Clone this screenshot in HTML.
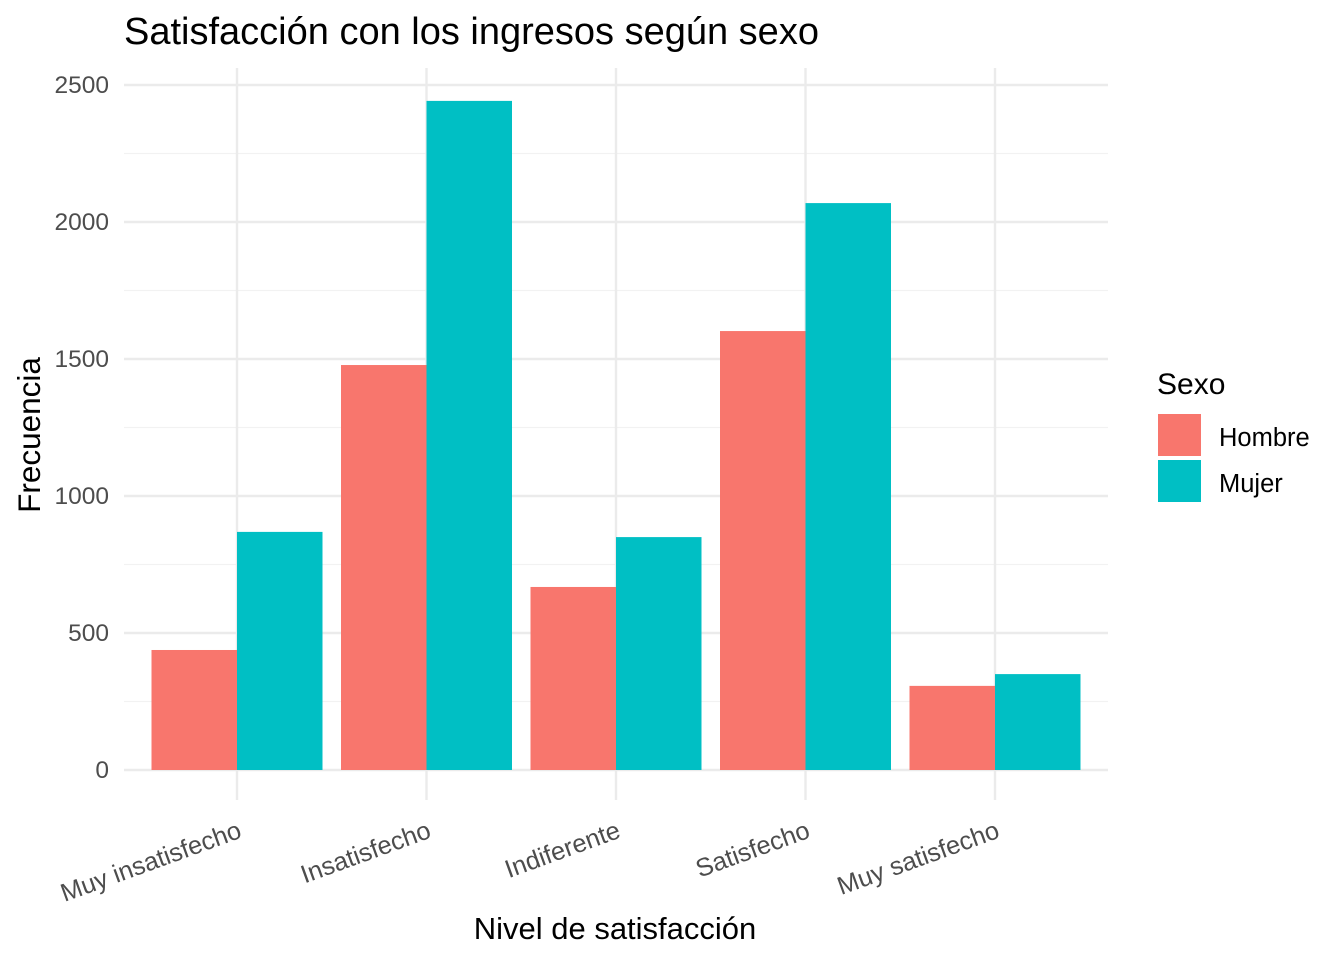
<!DOCTYPE html>
<html><head><meta charset="utf-8"><style>
body{margin:0;background:#fff;}
svg text{font-family:"Liberation Sans",Arial,sans-serif;}
</style></head><body>
<svg id="chart" width="1344" height="960" xmlns="http://www.w3.org/2000/svg">
<text x="124" y="44" font-size="38" fill="#000">Satisfacción con los ingresos según sexo</text>
<g id="grid"></g><g id="bars"></g><g id="axes"></g>
<text x="615" y="939" font-size="31" text-anchor="middle" fill="#000">Nivel de satisfacción</text>
<text transform="translate(40,435) rotate(-90)" font-size="31.5" text-anchor="middle" fill="#000">Frecuencia</text>
<g>
<text x="1157" y="394" font-size="30" fill="#000">Sexo</text>
<rect x="1158" y="414" width="43" height="42" fill="#F8766D"/>
<text x="1219" y="446" font-size="25.5" fill="#000">Hombre</text>
<rect x="1158" y="460" width="43" height="42" fill="#00BFC4"/>
<text x="1219" y="492" font-size="25.5" fill="#000">Mujer</text>
</g>
</svg>
<script>
const categories=["Muy insatisfecho","Insatisfecho","Indiferente","Satisfecho","Muy satisfecho"];
const hombre=[438,1478,668,1602,307];
const mujer=[869,2442,850,2069,350];
const yTicks=[0,500,1000,1500,2000,2500];
const NS="http://www.w3.org/2000/svg";
const px0=124,px1=1108,pyTop=68,pyBot=800;
const y=v=>770-v*0.274;
const x=i=>237+i*189.5;
const bw=85.5;
function mk(tag,attrs,parent){const e=document.createElementNS(NS,tag);for(const k in attrs)e.setAttribute(k,attrs[k]);parent.appendChild(e);return e;}
const grid=document.getElementById('grid'),bars=document.getElementById('bars'),axes=document.getElementById('axes');
for(let k=0;k<yTicks.length-1;k++){const v=(yTicks[k]+yTicks[k+1])/2;
 const l=mk('line',{x1:px0,x2:px1,y1:y(v),y2:y(v),stroke:'#f2f2f2','stroke-width':1.2},grid);
 
 }
yTicks.forEach(v=>{
 const l=mk('line',{x1:px0,x2:px1,y1:y(v),y2:y(v),stroke:'#ebebeb','stroke-width':2.4},grid);
 
 
 const t=mk('text',{x:109,y:y(v)+8,'font-size':24.5,'text-anchor':'end',fill:'#4d4d4d'},axes);t.textContent=v;
 
 
});
categories.forEach((c,i)=>{
 const l=mk('line',{x1:x(i),x2:x(i),y1:pyTop,y2:pyBot,stroke:'#ebebeb','stroke-width':2.4},grid);
 
 
 const h=mk('rect',{x:x(i)-bw,y:y(hombre[i]),width:bw,height:y(0)-y(hombre[i]),fill:'#F8766D'},bars);
 
 
 const m=mk('rect',{x:x(i),y:y(mujer[i]),width:bw,height:y(0)-y(mujer[i]),fill:'#00BFC4'},bars);
 
 
 const t=mk('text',{transform:`translate(${x(i)+6},${837}) rotate(-20)`,'font-size':25.5,'text-anchor':'end',fill:'#4d4d4d'},axes);t.textContent=c;
 
 
});
</script>
</body></html>
